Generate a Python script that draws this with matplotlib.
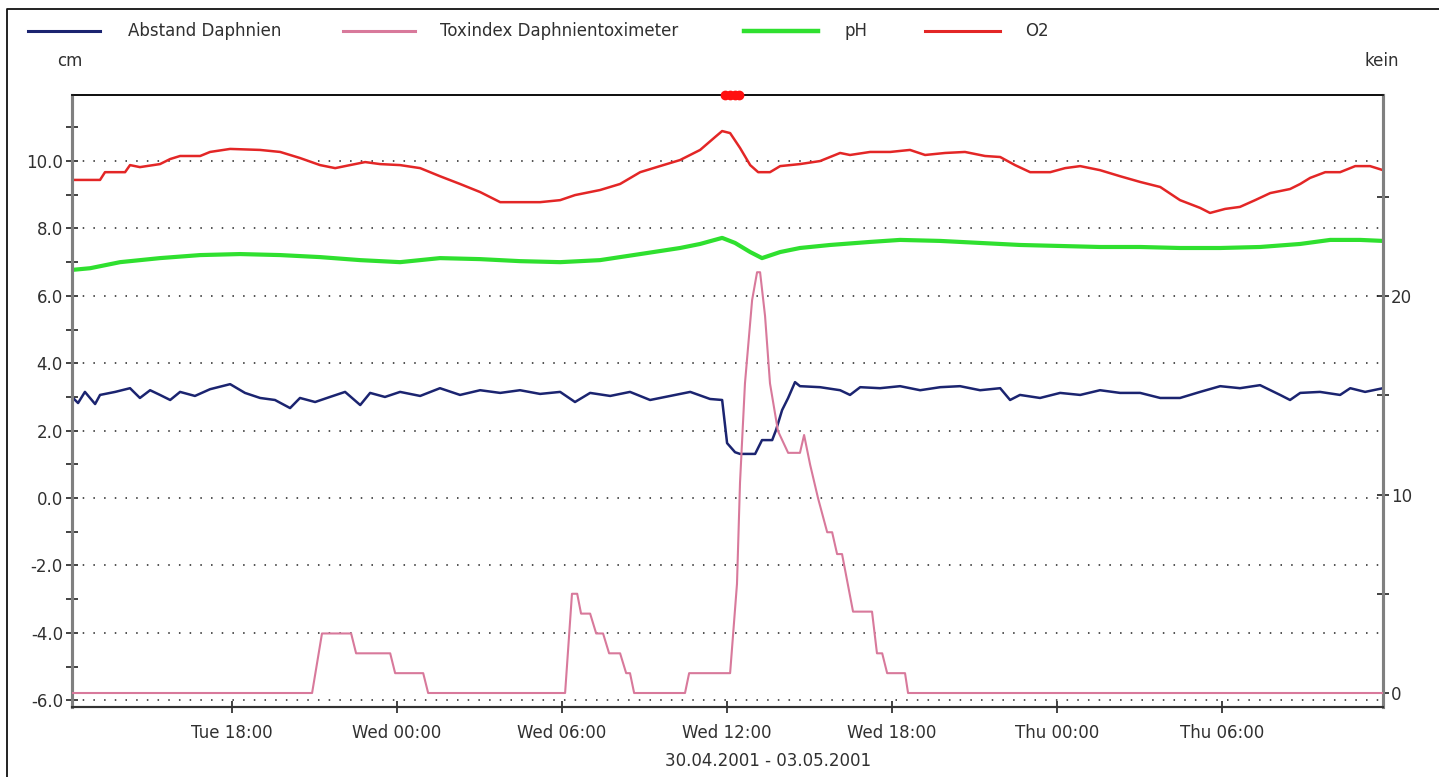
"""Daphnientoximeter: distance, tox index, pH and O2 over 30.04.-03.05.2001."""

import matplotlib

matplotlib.use("Agg")
import matplotlib.pyplot as plt
import numpy as np
from matplotlib.lines import Line2D
from matplotlib.ticker import FixedLocator, MultipleLocator

# time axis in hours since Tue 00:00
o2_t = [12.18, 13.2, 13.38, 14.11, 14.29, 14.65, 15.38, 15.75, 16.11, 16.84, 17.2, 17.93,
        19.02, 19.75, 20.47, 21.2, 21.75, 22.29, 22.84, 23.38, 24.11, 24.84, 25.56, 26.29,
        27.02, 27.75, 28.47, 29.2, 29.93, 30.47, 31.38, 32.11, 32.84, 33.56, 34.29, 35.02,
        35.56, 35.82, 36.11, 36.47, 36.84, 37.13, 37.56, 37.93, 38.65, 39.38, 40.11, 40.47,
        41.2, 41.93, 42.65, 43.2, 43.93, 44.65, 45.38, 45.93, 46.47, 47.02, 47.75, 48.29,
        48.84, 49.56, 50.29, 51.02, 51.75, 52.47, 53.2, 53.56, 54.11, 54.65, 55.2, 55.75,
        56.47, 56.84, 57.2, 57.75, 58.29, 58.84, 59.38, 59.85]
o2 = [9.44, 9.44, 9.67, 9.67, 9.88, 9.82, 9.91, 10.06, 10.15, 10.15, 10.27, 10.36,
      10.33, 10.27, 10.09, 9.88, 9.79, 9.88, 9.97, 9.91, 9.88, 9.79, 9.55, 9.32,
      9.08, 8.78, 8.78, 8.78, 8.84, 8.99, 9.14, 9.32, 9.67, 9.85, 10.03, 10.33,
      10.71, 10.89, 10.83, 10.39, 9.88, 9.67, 9.67, 9.85, 9.91, 10.0, 10.24, 10.18,
      10.27, 10.27, 10.33, 10.18, 10.24, 10.27, 10.15, 10.12, 9.88, 9.67, 9.67, 9.79,
      9.85, 9.73, 9.55, 9.38, 9.23, 8.84, 8.61, 8.46, 8.58, 8.64, 8.84, 9.05,
      9.17, 9.32, 9.5, 9.67, 9.67, 9.85, 9.85, 9.73]

ph_t = [12.18, 12.84, 13.93, 15.38, 16.84, 18.29, 19.75, 21.2, 22.66, 24.11, 25.56, 27.02,
        28.47, 29.93, 31.38, 32.84, 34.29, 35.02, 35.82, 36.29, 36.84, 37.27, 37.93, 38.65,
        39.75, 41.2, 42.29, 43.75, 45.2, 46.65, 48.11, 49.56, 51.02, 52.47, 53.93, 55.38,
        56.84, 57.93, 59.02, 59.85]
ph = [6.77, 6.82, 7.0, 7.12, 7.21, 7.24, 7.21, 7.15, 7.06, 7.0, 7.12, 7.09,
      7.03, 7.0, 7.06, 7.24, 7.42, 7.54, 7.72, 7.57, 7.3, 7.12, 7.3, 7.42,
      7.51, 7.6, 7.66, 7.63, 7.57, 7.51, 7.48, 7.45, 7.45, 7.42, 7.42, 7.45,
      7.54, 7.66, 7.66, 7.63]

dist_t = [12.18, 12.4, 12.65, 13.02, 13.2, 13.75, 14.29, 14.65, 15.02, 15.38, 15.75, 16.11,
          16.65, 17.2, 17.93, 18.47, 19.02, 19.56, 20.11, 20.47, 21.02, 21.56, 22.11, 22.66,
          23.02, 23.56, 24.11, 24.84, 25.56, 26.29, 27.02, 27.75, 28.47, 29.2, 29.93, 30.47,
          31.02, 31.75, 32.47, 33.2, 33.93, 34.66, 35.38, 35.82, 36.0, 36.29, 36.47, 37.02,
          37.27, 37.64, 37.78, 38.0, 38.22, 38.47, 38.65, 39.38, 40.11, 40.47, 40.84, 41.56,
          42.29, 43.02, 43.75, 44.47, 45.2, 45.93, 46.29, 46.65, 47.38, 48.11, 48.84, 49.56,
          50.29, 51.02, 51.75, 52.47, 53.2, 53.93, 54.65, 55.38, 56.11, 56.47, 56.84, 57.56,
          58.29, 58.66, 59.2, 59.85]
dist = [3.0, 2.82, 3.15, 2.79, 3.06, 3.15, 3.26, 2.97, 3.2, 3.06, 2.91, 3.15,
        3.03, 3.23, 3.38, 3.12, 2.97, 2.91, 2.67, 2.97, 2.85, 3.0, 3.15, 2.76,
        3.12, 3.0, 3.15, 3.03, 3.26, 3.06, 3.2, 3.12, 3.2, 3.09, 3.15, 2.85,
        3.12, 3.03, 3.15, 2.91, 3.03, 3.15, 2.94, 2.91, 1.63, 1.36, 1.31, 1.31,
        1.72, 1.72, 2.02, 2.61, 2.97, 3.44, 3.32, 3.29, 3.2, 3.06, 3.29, 3.26,
        3.32, 3.2, 3.29, 3.32, 3.2, 3.26, 2.91, 3.06, 2.97, 3.12, 3.06, 3.2,
        3.12, 3.12, 2.97, 2.97, 3.15, 3.32, 3.26, 3.35, 3.06, 2.91, 3.12, 3.15,
        3.06, 3.26, 3.15, 3.26]

tox_t = [12.18, 20.91, 21.27, 22.33, 22.51, 23.75, 23.93, 24.95, 25.13, 30.11, 30.36, 30.55,
         30.69, 31.02, 31.24, 31.49, 31.71, 32.11, 32.33, 32.47, 32.62, 34.47, 34.62, 36.11,
         36.36, 36.47, 36.65, 36.91, 37.09, 37.2, 37.38, 37.56, 37.85, 38.22, 38.65, 38.8,
         39.02, 39.31, 39.64, 39.82, 40.0, 40.18, 40.58, 41.27, 41.45, 41.64, 41.82, 42.47,
         42.58, 59.85]
tox = [0, 0, 3, 3, 2, 2, 1, 1, 0, 0, 5, 5,
       4, 4, 3, 3, 2, 2, 1, 1, 0, 0, 1, 1,
       5.5, 10.6, 15.6, 19.8, 21.2, 21.2, 19.0, 15.6, 13.2, 12.1, 12.1, 13.0,
       11.5, 9.8, 8.1, 8.1, 7.0, 7.0, 4.1, 4.1, 2.0, 2.0, 1.0, 1.0,
       0, 0]

# alarm markers on the top edge
alarm_t = [35.93, 36.1, 36.27, 36.44]

tick_hours = [18, 24, 30, 36, 42, 48, 54]
tick_labels = ["Tue 18:00", "Wed 00:00", "Wed 06:00", "Wed 12:00",
               "Wed 18:00", "Thu 00:00", "Thu 06:00"]

C_DIST = "#1b2470"
C_TOX = "#d8799b"
C_PH = "#2fe02f"
C_O2 = "#e32626"
TXT = "#303030"

plt.rcParams["font.family"] = ["DejaVu Sans"]
plt.rcParams["font.size"] = 12

fig = plt.figure(figsize=(14.39, 7.77), dpi=100)
W, H = 1439, 777


def fx(px):
    return px / W


def fy(py):
    return 1 - py / H


ax = fig.add_axes((fx(72), fy(707), fx(1383) - fx(72), fy(95) - fy(707)))
ax2 = ax.twinx()

ax.set_xlim(12.18, 59.85)
ax.set_ylim(-6.2, 11.96)
ax2.set_ylim(-0.705, 30.13)

for y in np.arange(-6, 11, 2):
    ax.axhline(y, color="#222222", lw=1.1, ls=(0, (1, 6)), zorder=0)

ax.plot(o2_t, o2, color=C_O2, lw=1.8, zorder=3)
ax.plot(ph_t, ph, color=C_PH, lw=3.0, zorder=3)
ax.plot(dist_t, dist, color=C_DIST, lw=1.8, zorder=4)
ax2.plot(tox_t, tox, color=C_TOX, lw=1.5, zorder=3)
ax2.plot(alarm_t, [30.13] * len(alarm_t), "o", color="#ff1010", ms=6,
         clip_on=False, zorder=5)

ax.yaxis.set_major_locator(MultipleLocator(2))
ax.yaxis.set_minor_locator(MultipleLocator(1))
ax.yaxis.set_major_formatter(matplotlib.ticker.FormatStrFormatter("%.1f"))
ax2.yaxis.set_major_locator(FixedLocator([0, 10, 20]))
ax2.yaxis.set_minor_locator(FixedLocator([5, 15, 25]))
ax.xaxis.set_major_locator(FixedLocator(tick_hours))
ax.set_xticklabels(tick_labels)

for a in (ax, ax2):
    a.tick_params(which="both", direction="inout", colors="#222222",
                  labelcolor=TXT, labelsize=12)
    a.tick_params(which="major", length=9, width=1.2)
    a.tick_params(which="minor", length=8, width=1.2)
ax.tick_params(axis="x", pad=8)
ax.tick_params(axis="y", pad=2)
ax2.tick_params(axis="y", pad=1)

for a in (ax, ax2):
    a.spines["left"].set_color("#808080")
    a.spines["left"].set_linewidth(2.2)
    a.spines["right"].set_color("#808080")
    a.spines["right"].set_linewidth(2.2)
    a.spines["top"].set_color("#111111")
    a.spines["top"].set_linewidth(1.3)
    a.spines["bottom"].set_color("#333333")
    a.spines["bottom"].set_linewidth(1.5)

fig.text(fx(768), fy(761), "30.04.2001 - 03.05.2001", ha="center", va="center",
         color=TXT, fontsize=12)
fig.text(fx(70), fy(61), "cm", ha="center", va="center", color=TXT, fontsize=12)
fig.text(fx(1382), fy(61), "kein", ha="center", va="center", color=TXT, fontsize=12)

# legend row
legend_items = [
    (28, 100, 128, C_DIST, 2.2, "Abstand Daphnien"),
    (343, 415, 440, C_TOX, 2.2, "Toxindex Daphnientoximeter"),
    (744, 818, 845, C_PH, 3.2, "pH"),
    (925, 1000, 1025, C_O2, 2.2, "O2"),
]
for x0, x1, xt, col, lw, label in legend_items:
    fig.add_artist(Line2D([fx(x0), fx(x1)], [fy(31), fy(31)], color=col, lw=lw,
                          transform=fig.transFigure))
    fig.text(fx(xt), fy(31), label, ha="left", va="center", color=TXT, fontsize=12)

# outer frame
fig.add_artist(Line2D([fx(7), fx(7), 1.0], [0.0, fy(9), fy(9)], color="#111111",
                      lw=1.3, transform=fig.transFigure))

fig.savefig("out.png", dpi=100)
